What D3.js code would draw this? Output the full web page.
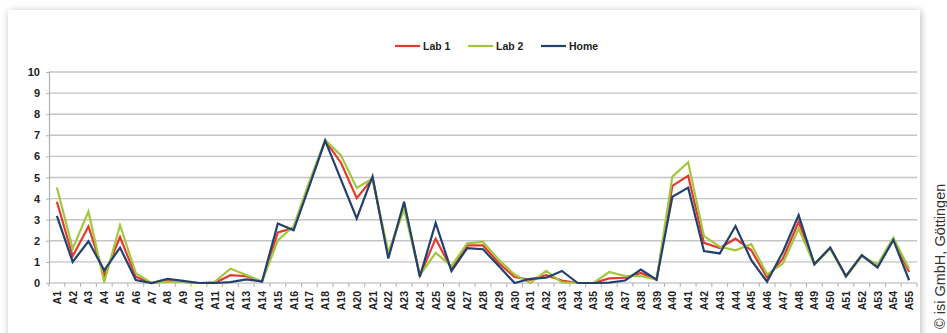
<!DOCTYPE html>
<html>
<head>
<meta charset="utf-8">
<script src="https://cdn.jsdelivr.net/npm/d3@7"></script>
<style>
  html, body { margin: 0; padding: 0; background: #ffffff; }
  body { width: 947px; height: 333px; overflow: hidden; position: relative; }
  .card { position: absolute; left: 8px; top: 10px; width: 912px; height: 340px; background: #fff;
          box-shadow: 1px 1px 7px rgba(0,0,0,0.28); }
  svg { position: absolute; left: 0; top: 0; }
</style>
</head>
<body>
<div class="card"></div>
<svg id="chart" width="947" height="333"></svg>
<script>
// Categories A1 … A55
const categories = ["A1","A2","A3","A4","A5","A6","A7","A8","A9","A10","A11","A12","A13","A14","A15","A16","A17","A18","A19","A20","A21","A22","A23","A24","A25","A26","A27","A28","A29","A30","A31","A32","A33","A34","A35","A36","A37","A38","A39","A40","A41","A42","A43","A44","A45","A46","A47","A48","A49","A50","A51","A52","A53","A54","A55"];

const lab1 = [3.85,1.27,2.68,0.35,2.18,0.3,0.0,0.12,0.05,0.0,0.0,0.37,0.32,0.07,2.4,2.6,4.7,6.75,5.7,4.02,4.95,1.3,3.7,0.35,2.1,0.67,1.78,1.78,0.95,0.28,0.15,0.37,0.12,0.0,0.0,0.22,0.25,0.48,0.16,4.6,5.08,1.9,1.66,2.1,1.55,0.26,1.15,2.9,0.89,1.67,0.32,1.3,0.78,2.08,0.52];
const lab2 = [4.53,1.63,3.38,0.04,2.74,0.47,0.0,0.05,0.05,0.0,0.05,0.68,0.38,0.07,2.02,2.7,4.8,6.78,6.05,4.5,4.95,1.45,3.5,0.37,1.43,0.8,1.88,1.95,1.1,0.4,0.0,0.57,0.03,0.0,0.0,0.52,0.33,0.33,0.16,5.04,5.72,2.22,1.72,1.55,1.84,0.41,0.92,2.58,0.86,1.62,0.3,1.26,0.89,2.14,0.68];
const home = [3.18,1.0,1.98,0.6,1.68,0.14,0.0,0.2,0.1,0.0,0.0,0.04,0.17,0.07,2.82,2.5,4.6,6.75,4.9,3.06,5.05,1.16,3.85,0.3,2.85,0.57,1.65,1.6,0.8,0.0,0.2,0.25,0.57,0.0,0.0,0.02,0.12,0.64,0.16,4.09,4.52,1.51,1.4,2.7,1.08,0.06,1.47,3.22,0.89,1.68,0.32,1.32,0.73,2.04,0.13];

const seriesNames = ["Lab 1", "Lab 2", "Home"];
const seriesColors = ["#e23b2e", "#a3c63e", "#22416f"];
const yTicks = [0,1,2,3,4,5,6,7,8,9,10];

const series = [lab1, lab2, home].map((v, i) => ({ name: seriesNames[i], color: seriesColors[i], values: v }));

const svg = d3.select("#chart");
const plot = { left: 49, right: 917, top: 72, bottom: 283 };

const x = d3.scaleBand().domain(categories).range([plot.left, plot.right]);
const y = d3.scaleLinear().domain([0, 10]).range([plot.bottom, plot.top]);
const xc = d => x(d) + x.bandwidth() / 2;

// horizontal gridlines
svg.append("g")
  .selectAll("line")
  .data(yTicks.filter(t => t > 0))
  .join("line")
  .attr("x1", plot.left).attr("x2", plot.right)
  .attr("y1", d => y(d)).attr("y2", d => y(d))
  .attr("stroke", "#c4c4c4").attr("stroke-width", 1.4);

// y axis
const yAxis = svg.append("g")
  .attr("transform", `translate(${plot.left},0)`)
  .call(d3.axisLeft(y).tickValues(yTicks).tickSize(3).tickPadding(6));
yAxis.select(".domain").attr("stroke", "#b0b0b0").attr("stroke-width", 1.2);
yAxis.selectAll(".tick line").attr("stroke", "#b0b0b0");
yAxis.selectAll("text")
  .attr("font-family", "Liberation Sans, Arial, sans-serif")
  .attr("font-weight", "bold").attr("font-size", 11).attr("fill", "#222");

// x axis with ticks at category boundaries
const xAxisG = svg.append("g").attr("transform", `translate(0,${plot.bottom})`);
xAxisG.append("line")
  .attr("x1", plot.left).attr("x2", plot.right)
  .attr("stroke", "#b0b0b0").attr("stroke-width", 1.2);
xAxisG.selectAll("line.tk")
  .data(categories.concat(["__end"]))
  .join("line").attr("class", "tk")
  .attr("x1", (d, i) => i < categories.length ? x(d) : plot.right)
  .attr("x2", (d, i) => i < categories.length ? x(d) : plot.right)
  .attr("y1", 0).attr("y2", 4)
  .attr("stroke", "#b0b0b0");
xAxisG.selectAll("text")
  .data(categories)
  .join("text")
  .attr("transform", d => `translate(${xc(d) + 4},8) rotate(-90)`)
  .attr("text-anchor", "end")
  .attr("font-family", "Liberation Sans, Arial, sans-serif")
  .attr("font-weight", "bold").attr("font-size", 10.5).attr("fill", "#222")
  .text(d => d);

// series lines
const line = d3.line().x((d, i) => xc(categories[i])).y(d => y(d));
svg.append("g")
  .selectAll("path")
  .data(series)
  .join("path")
  .attr("d", d => line(d.values))
  .attr("fill", "none")
  .attr("stroke", d => d.color)
  .attr("stroke-width", 2.2)
  .attr("stroke-linejoin", "miter");

// legend
const legendX = [395, 468, 541];
const legend = svg.append("g");
series.forEach((s, i) => {
  legend.append("line")
    .attr("x1", legendX[i]).attr("x2", legendX[i] + 25)
    .attr("y1", 46).attr("y2", 46)
    .attr("stroke", s.color).attr("stroke-width", 2.2);
  legend.append("text")
    .attr("x", legendX[i] + 28).attr("y", 50)
    .attr("font-family", "Liberation Sans, Arial, sans-serif")
    .attr("font-weight", "bold").attr("font-size", 10.5).attr("fill", "#222")
    .text(s.name);
});

// credit line
svg.append("text")
  .attr("transform", "translate(945,329) rotate(-90)")
  .attr("font-family", "Liberation Sans, Arial, sans-serif")
  .attr("font-size", 14.5).attr("fill", "#333")
  .text("© isi GmbH, Göttingen");
</script>
</body>
</html>
